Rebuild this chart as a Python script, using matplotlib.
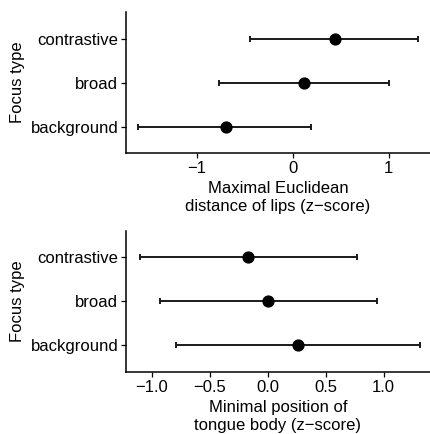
import matplotlib
matplotlib.use("Agg")
import matplotlib.pyplot as plt

plt.rcParams['font.family'] = ['Liberation Sans', 'DejaVu Sans']

categories = ["background", "broad", "contrastive"]

lips_mean = [-0.70, 0.12, 0.44]
lips_low = [-1.61, -0.77, -0.45]
lips_high = [0.19, 1.00, 1.31]

tongue_mean = [0.26, 0.00, -0.17]
tongue_low = [-0.79, -0.93, -1.10]
tongue_high = [1.31, 0.94, 0.77]

lips_ticks = [-1, 0, 1]
lips_ticklabels = ["\u22121", "0", "1"]
tongue_ticks = [-1.0, -0.5, 0.0, 0.5, 1.0]
tongue_ticklabels = ["\u22121.0", "\u22120.5", "0.0", "0.5", "1.0"]

fig = plt.figure(figsize=(4.3, 4.34), dpi=100)
ax1 = fig.add_axes([0.293, 0.647, 0.707, 0.325])
ax2 = fig.add_axes([0.293, 0.143, 0.707, 0.325])

FS = 12


def draw(ax, mean, low, high, xlim, ticks, ticklabels, xlabel):
    ypos = list(range(len(categories)))
    xerr = [[m - l for m, l in zip(mean, low)], [h - m for m, h in zip(mean, high)]]
    ax.errorbar(mean, ypos, xerr=xerr, fmt='o', color='black', ecolor='#1a1a1a',
                elinewidth=1.4, capsize=2, capthick=1.4, markersize=7.8)
    ax.set_yticks(ypos)
    ax.set_yticklabels(categories)
    ax.set_ylim(-0.6, len(categories) - 1 + 0.6)
    ax.set_xlim(*xlim)
    ax.set_xticks(ticks)
    ax.set_xticklabels(ticklabels)
    for s in ['top', 'right']:
        ax.spines[s].set_visible(False)
    for s in ['left', 'bottom']:
        ax.spines[s].set_linewidth(1.1)
        ax.spines[s].set_color('black')
    ax.tick_params(axis='both', labelsize=FS, length=3.5, width=0.9, colors='black', pad=2)
    ax.set_xlabel(xlabel, fontsize=FS, labelpad=4, linespacing=1.25)
    ax.set_ylabel("Focus type", fontsize=FS, labelpad=4)


draw(ax1, lips_mean, lips_low, lips_high, (-1.74, 1.43), lips_ticks, lips_ticklabels,
     "Maximal Euclidean\ndistance of lips (z\u2212score)")
draw(ax2, tongue_mean, tongue_low, tongue_high, (-1.22, 1.40), tongue_ticks, tongue_ticklabels,
     "Minimal position of\ntongue body (z\u2212score)")

fig.savefig("out.png", dpi=100)
